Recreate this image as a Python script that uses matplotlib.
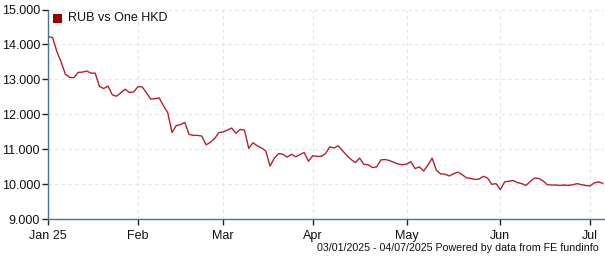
import matplotlib
matplotlib.use("Agg")
import matplotlib.pyplot as plt
import pandas as pd

# business days 03/01/2025 - 04/07/2025
dates = pd.bdate_range("2025-01-03", "2025-07-04")

rub_vs_hkd = [
    14.22, 14.20, 13.80, 13.50, 13.15, 13.06, 13.05, 13.20, 13.21, 13.24,
    13.18, 13.18, 12.80, 12.74, 12.81, 12.56, 12.52, 12.62, 12.72, 12.63,
    12.64, 12.79, 12.79, 12.62, 12.44, 12.45, 12.47, 12.25, 12.05, 11.48,
    11.68, 11.71, 11.77, 11.43, 11.40, 11.40, 11.38, 11.13, 11.20, 11.31,
    11.48, 11.50, 11.55, 11.61, 11.46, 11.57, 11.55, 11.03, 11.19, 11.10,
    11.04, 10.95, 10.52, 10.75, 10.88, 10.86, 10.78, 10.86, 10.79, 10.85,
    10.91, 10.66, 10.82, 10.80, 10.80, 10.88, 11.07, 11.04, 11.10, 10.96,
    10.82, 10.71, 10.62, 10.75, 10.57, 10.56, 10.48, 10.50, 10.70, 10.71,
    10.68, 10.63, 10.58, 10.56, 10.58, 10.65, 10.45, 10.50, 10.38, 10.55,
    10.75, 10.40, 10.30, 10.29, 10.24, 10.30, 10.35, 10.28, 10.19, 10.17,
    10.14, 10.15, 10.23, 10.18, 10.00, 10.02, 9.85, 10.07, 10.09, 10.11,
    10.05, 10.02, 9.97, 10.08, 10.18, 10.17, 10.10, 9.99, 9.98, 9.98,
    9.97, 9.98, 9.97, 9.99, 10.02, 9.99, 9.97, 9.95, 10.04, 10.07,
    10.03,
]

month_labels = ["Jan 25", "Feb", "Mar", "Apr", "May", "Jun", "Jul"]
y_ticks = [9, 10, 11, 12, 13, 14, 15]

plt.rcParams["font.family"] = ["Liberation Sans", "DejaVu Sans"]

fig = plt.figure(figsize=(6.05, 2.6), dpi=100)
ax = fig.add_axes([48.3 / 605, 40.7 / 260, (604 - 48.3) / 605, (219.3 - 9.5) / 260])

x = list(range(len(dates)))
ax.plot(x, rub_vs_hkd[:len(x)], color="#b3232c", lw=1.0, solid_joinstyle="round")

# first business day of each month as tick
month_pos = []
seen = set()
for i, d in enumerate(dates):
    key = (d.year, d.month)
    if key not in seen:
        seen.add(key)
        month_pos.append(i)

ax.set_xlim(0, len(x) - 1 + 0.3)
ax.set_ylim(9, 15)
ax.set_xticks(month_pos)
ax.set_xticklabels(month_labels)
ax.set_yticks(y_ticks)
ax.set_yticklabels([f"{v:.3f}" for v in y_ticks])

ax.grid(True, color="#e4e4e4", linestyle=(0, (3, 3)), lw=0.8)
for s in ["top", "right"]:
    ax.spines[s].set_visible(False)
for s in ["left", "bottom"]:
    ax.spines[s].set_color("#4a72a0")
    ax.spines[s].set_linewidth(1.0)
ax.tick_params(axis="both", direction="out", length=4, width=1, color="#222222",
               labelsize=9, labelcolor="#111111", pad=2)
ax.tick_params(axis="x", pad=4)

# legend
fig.patches.append(plt.Rectangle((53 / 605, 1 - 23 / 260), 9 / 605, 9 / 260,
                                 transform=fig.transFigure, facecolor="#990000",
                                 edgecolor="none", figure=fig))
fig.text(68 / 605, 1 - 18 / 260, "RUB vs One HKD", fontsize=9, va="center",
         color="#111111")

fig.text(599 / 605, 1 - 248 / 260,
         "03/01/2025 - 04/07/2025 Powered by data from FE fundinfo",
         fontsize=7.7, ha="right", va="center", color="#111111")

fig.savefig("out.png", dpi=100)
